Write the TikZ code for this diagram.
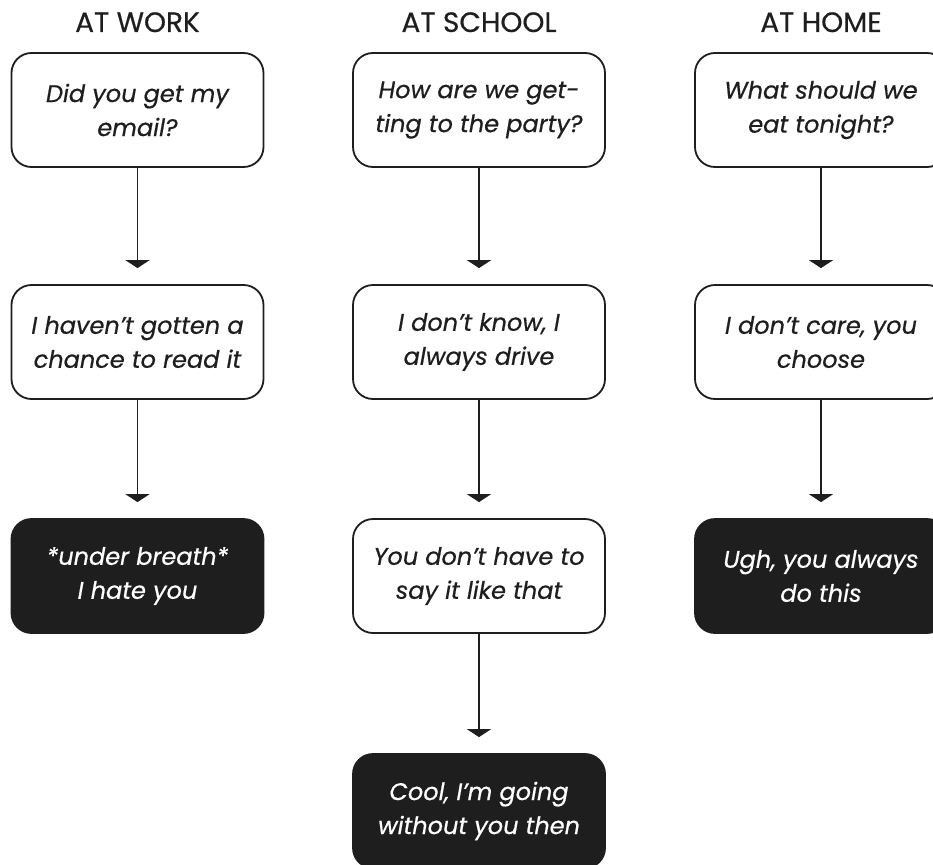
\documentclass[tikz,border=0pt]{standalone}
\usepackage{fontspec}
\setmainfont{Poppins}[UprightFeatures={FakeBold=0.4},ItalicFeatures={FakeBold=0.5}]
\usetikzlibrary{arrows.meta}
\definecolor{ink}{HTML}{1E1E1E}
\begin{document}
\begin{tikzpicture}[x=1pt,y=-1pt,
 box/.style={draw=ink, line width=1.8pt, rounded corners=20pt, minimum width=252pt, minimum height=114pt, align=center, font=\fontsize{24}{34}\selectfont\itshape, inner sep=0pt, text=ink},
 darkbox/.style={box, fill=ink, text=white},
 hdr/.style={font=\fontsize{28}{32}\selectfont, text=ink, anchor=base, inner sep=0pt},
 arr/.style={draw=ink, line width=1.8pt, -{Triangle[width=24pt,length=8pt]}, shorten >=16pt}]
\useasboundingbox (0,0) rectangle (933,864);
\clip (0,0) rectangle (933,864);
\fill[white] (0,0) rectangle (933,864);
% headers
\node[hdr] (h1) at (137.5,32) {AT WORK};
\node[hdr] (h2) at (479,32) {AT SCHOOL};
\node[hdr] (h3) at (821,32) {AT HOME};
% column 1
\node[box] (a1) at (137.5,110) {Did you get my\\email?};
\node[box] (a2) at (137.5,342) {I haven’t gotten a\\chance to read it};
\node[darkbox] (a3) at (137.5,576) {*under breath*\\I hate you};
% column 2
\node[box] (b1) at (479,110) {How are we get-\\ting to the party?};
\node[box] (b2) at (479,342) {I don’t know, I\\always drive};
\node[box] (b3) at (479,576) {You don’t have to\\say it like that};
\node[darkbox] (b4) at (479,811) {Cool, I’m going\\without you then};
% column 3
\node[box] (c1) at (821,110) {What should we\\eat tonight?};
\node[box] (c2) at (821,342) {I don’t care, you\\choose};
\node[darkbox] (c3) at (821,576) {Ugh, you always\\do this};
% arrows
\draw[arr] (a1) -- (a2);
\draw[arr] (a2) -- (a3);
\draw[arr] (b1) -- (b2);
\draw[arr] (b2) -- (b3);
\draw[arr] (b3) -- (b4);
\draw[arr] (c1) -- (c2);
\draw[arr] (c2) -- (c3);
\end{tikzpicture}
\end{document}
